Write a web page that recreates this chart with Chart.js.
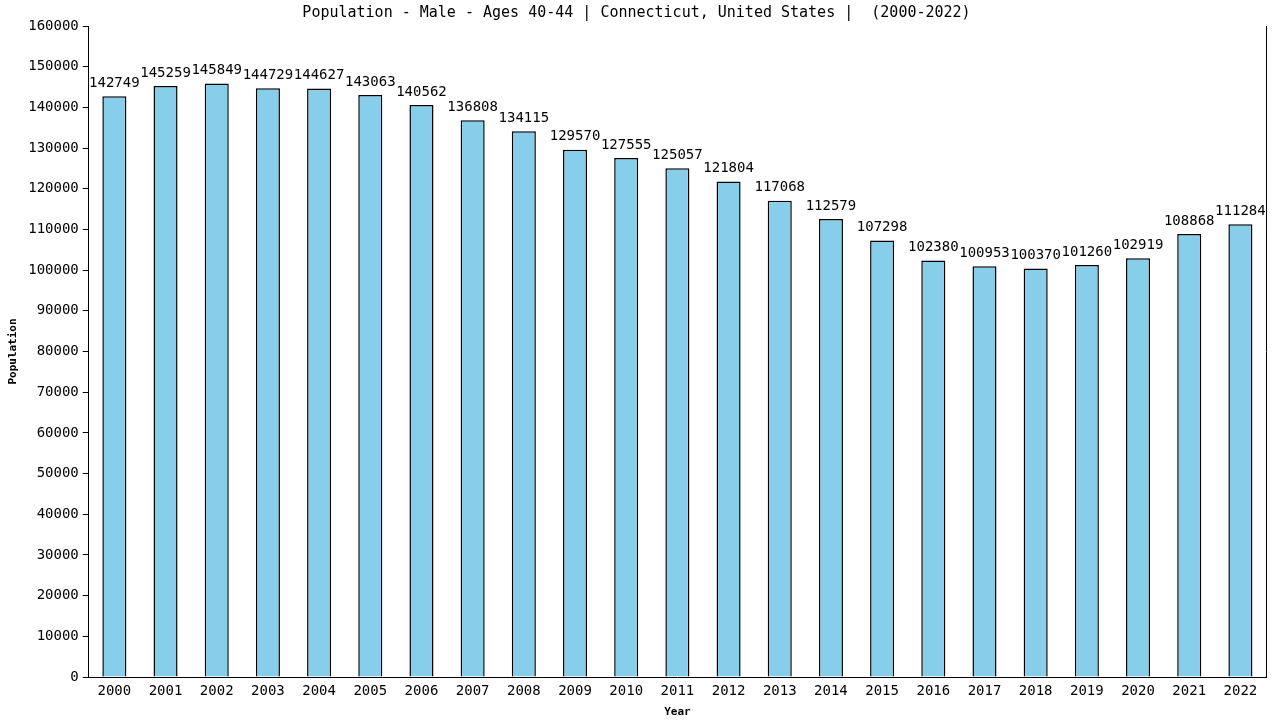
<!DOCTYPE html>
<html>
<head>
<meta charset="utf-8">
<script src="https://cdn.jsdelivr.net/npm/chart.js@4"></script>
<style>
  body { margin: 0; background: #fff; }
  canvas { display: block; }
</style>
</head>
<body>
<canvas id="js--chart" width="1280" height="720"></canvas>
<script>
const years = [
  "2000", "2001", "2002", "2003", "2004", "2005", "2006", "2007",
  "2008", "2009", "2010", "2011", "2012", "2013", "2014", "2015",
  "2016", "2017", "2018", "2019", "2020", "2021", "2022",
];

const population = [
  142749, 145259, 145849, 144729, 144627, 143063, 140562, 136808,
  134115, 129570, 127555, 125057, 121804, 117068, 112579, 107298,
  102380, 100953, 100370, 101260, 102919, 108868, 111284,
];

const yMin = 0;
const yMax = 160000;
const yStep = 10000;

const mono = "'DejaVu Sans Mono', monospace";

// numbers over the bars + right edge line
const barLabels = {
  id: "barLabels",
  afterDatasetsDraw: function (chart) {
    const ctx = chart.ctx;
    const meta = chart.getDatasetMeta(0);
    ctx.save();
    ctx.font = "14px " + mono;
    ctx.fillStyle = "#000";
    ctx.textAlign = "center";
    ctx.textBaseline = "bottom";
    meta.data.forEach(function (bar, i) {
      ctx.fillText(String(population[i]), bar.x, bar.y - 6);
    });
    const area = chart.chartArea;
    ctx.strokeStyle = "#000";
    ctx.lineWidth = 1;
    ctx.beginPath();
    ctx.moveTo(area.right + 0.5, area.top);
    ctx.lineTo(area.right + 0.5, area.bottom);
    ctx.stroke();
    ctx.restore();
  },
};

const data = {
  labels: years,
  datasets: [
    {
      label: "Population",
      data: population,
      backgroundColor: "#87CEEB",
      borderColor: "#000",
      borderWidth: 1.5,
      borderSkipped: "bottom",
      barPercentage: 0.47,
      categoryPercentage: 1,
    },
  ],
};

const config = {
  type: "bar",
  data: data,
  plugins: [barLabels],
  options: {
    responsive: false,
    devicePixelRatio: 1,
    animation: false,
    layout: { padding: { left: 7, right: 14, top: 0, bottom: 1 } },
    plugins: {
      legend: { display: false },
      tooltip: { enabled: false },
      title: {
        display: true,
        text: "Population - Male - Ages 40-44 | Connecticut, United States |  (2000-2022)",
        color: "#000",
        font: { family: mono, size: 15, weight: "normal" },
        padding: { top: 4, bottom: 4 },
      },
    },
    scales: {
      x: {
        grid: { display: false, drawTicks: false },
        border: { color: "#000", width: 1 },
        ticks: { color: "#000", font: { family: mono, size: 14 }, padding: 6, maxRotation: 0 },
        title: {
          display: true,
          text: "Year",
          color: "#000",
          font: { family: mono, size: 11, weight: "bold" },
          padding: { top: 0, bottom: 0 },
        },
      },
      y: {
        min: yMin,
        max: yMax,
        grid: { drawOnChartArea: false, drawTicks: true, tickLength: 6, color: "#000" },
        border: { color: "#000", width: 1 },
        ticks: {
          stepSize: yStep,
          color: "#000",
          font: { family: mono, size: 14 },
          padding: 4,
          callback: function (v) { return String(v); },
        },
        title: {
          display: true,
          text: "Population",
          color: "#000",
          font: { family: mono, size: 11, weight: "bold" },
          padding: { top: 0, bottom: 4 },
        },
      },
    },
  },
};

new Chart(document.getElementById("js--chart"), config);
</script>
</body>
</html>
